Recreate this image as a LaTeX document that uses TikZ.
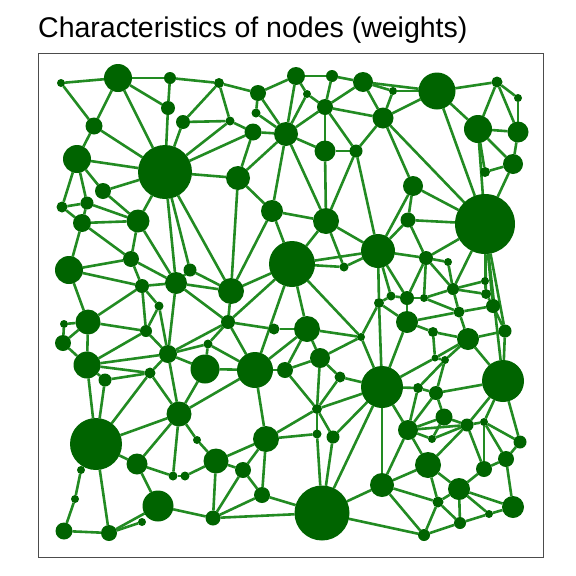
\documentclass[tikz,border=0pt]{standalone}
\usepackage{fontspec}
\setmainfont{Liberation Sans}
\definecolor{nodegreen}{RGB}{0,100,0}
\definecolor{edgegreen}{RGB}{34,139,34}
\pgfdeclarelayer{bg}
\pgfsetlayers{bg,main}
\tikzset{
  vertex/.style={circle, fill=nodegreen, draw=none, inner sep=0pt, outer sep=0pt},
  link/.style={draw=edgegreen, line width=2.6pt},
}
\begin{document}
\begin{tikzpicture}[x=1pt, y=-1pt]
  \useasboundingbox (0,0) rectangle (576,576);
  \node[anchor=base west, inner sep=0pt, font=\fontsize{28.5}{34}\selectfont] (title) at (38,37) {Characteristics of nodes (weights)};
  \draw[black!70, line width=1pt] (38,53) rectangle (543,557);
  % nodes: name/x/y/radius
  \foreach \n/\x/\y/\r in {
    1/61/83/4, 2/118/78/14, 3/170/78/6, 4/168/108/7, 5/183/122/7,
    6/94/126/8.5, 7/77/159/14, 8/165/172/27, 9/103/191/8, 10/62/207/5.5,
    11/87/203/6.5, 12/82/223/9, 13/138/221/11.5, 14/219/83/5, 15/258/93/8,
    16/296/76/9, 17/332/76/6, 18/363/82/10, 19/307/94/4, 20/325/107/8,
    21/256/113/4.5, 22/230/121/4.5, 23/253/132/8.5, 24/286/134/12, 25/383/118/10.5,
    26/325/151/10.5, 27/356/151/6.5, 28/238/178/12, 29/272/211/11, 30/326/221/13,
    31/393/91/4, 32/437/91/18.5, 33/497/82/5.5, 34/518/98/4, 35/478/129/14,
    36/518/132/10.5, 37/513/164/10, 38/485/172/5, 39/413/186/10, 40/408/220/7.5,
    41/485/224/30, 42/69/270/14, 43/131/259/8, 44/142/286/7, 45/176/283/11,
    46/190/270/6.5, 47/159/306/4.5, 48/88/322/12.5, 49/64/324/4, 50/63/343/8,
    51/146/331/6, 52/168/354/9, 53/87/365/13.5, 54/105/380/6.5, 55/150/373/5.5,
    56/208/344/4.5, 57/205/369/14.5, 58/292/264/23, 59/378/251/17, 60/344/267/4.5,
    61/231/291/13, 62/228/322/7, 63/274/329/5.5, 64/307/329/13, 65/379/303/5,
    66/361/337/4, 67/255/370/18, 68/285/370/8, 69/320/358/10, 70/340/377/5.5,
    71/382/387/21, 72/426/258/7, 73/448/262/4, 74/453/289/6, 75/485/281/4,
    76/486/294/5, 77/493/306/7, 78/391/296/4.5, 79/407/298/7, 80/424/298/4,
    81/459/312/5.5, 82/407/322/11, 83/433/332/5, 84/468/339/11, 85/505/331/6.5,
    86/435/358/3.5, 87/445/360/4, 88/503/381/21, 89/418/388/5, 90/436/393/7,
    91/96/444/26, 92/179/414/12.5, 93/81/470/4, 94/137/464/10.5, 95/197/440/4,
    96/173/476/4.5, 97/185/476/4.5, 98/216/461/12.5, 99/75/499/4, 100/158/506/15.5,
    101/64/531/8.5, 102/109/533/8, 103/142/522/4, 104/213/518/7.5, 105/317/409/5,
    106/266/439/13, 107/317/434/4.5, 108/333/437/6.5, 109/243/470/8, 110/262/495/8,
    111/322/513/27.5, 112/382/485/12, 113/444/417/8.5, 114/408/430/10, 115/467/425/6.5,
    116/484/422/4, 117/432/439/4, 118/520/442/6.5, 119/506/459/8, 120/428/465/13,
    121/484/469/8, 122/459/489/11, 123/438/502/5.5, 124/513/507/11, 125/489/514/4,
    126/460/523/6, 127/424/535/6}
    \node[vertex, minimum size={2*\r pt}] (v\n) at (\x,\y) {};
  % links
  \begin{pgfonlayer}{bg}
  \foreach \a/\b in {
    1/2, 1/6, 2/3, 2/4, 2/6, 2/8, 3/4, 3/14, 4/8, 5/14, 5/8, 5/22, 6/7, 6/8,
    7/8, 7/9, 7/10, 7/11, 8/9, 8/22, 8/23, 8/28, 8/13, 8/45, 8/46, 8/61, 9/13,
    10/11, 10/12, 11/12, 11/13, 12/13, 12/42, 12/43, 13/43, 13/45,
    14/15, 14/22, 15/16, 15/21, 15/24, 16/17, 16/19, 16/24, 17/18, 17/20, 18/20,
    18/25, 18/31, 18/32, 19/20, 19/24, 20/24, 20/25, 20/26, 20/27, 21/24, 22/23,
    23/24, 23/28, 24/26, 24/28, 24/29, 24/30, 25/27, 26/27, 26/30, 27/30, 27/59,
    28/29, 28/61, 29/30, 29/58, 29/61,
    31/32, 25/31, 25/32, 32/33, 32/35, 32/41, 33/34, 33/35, 33/36, 34/36, 35/36,
    35/37, 35/38, 35/41, 36/37, 37/38, 37/41, 25/39, 25/41, 39/40, 39/41, 39/59,
    40/41, 40/59, 40/72,
    42/43, 42/44, 42/48, 43/44, 43/45, 44/45, 44/47, 44/48, 44/51, 45/46, 45/61,
    45/62, 45/52, 46/61, 47/51, 47/52, 48/49, 48/50, 48/51, 48/53, 49/50, 50/53,
    51/52, 51/53, 52/53, 53/54, 53/55, 54/55, 52/55, 52/56, 52/57, 52/62, 56/57,
    56/62, 56/67, 57/67, 57/92,
    30/58, 30/59, 30/60, 58/59, 58/60, 59/60, 58/61, 58/62, 58/64, 58/66, 58/67,
    59/65, 65/66, 65/71, 61/62, 62/63, 62/67, 63/64, 64/66, 64/67, 64/68, 64/69,
    67/68, 68/69, 69/70, 69/66, 70/71, 66/71,
    41/72, 41/74, 41/75, 41/76, 41/77, 41/85, 41/88, 59/72, 59/78, 59/79, 72/73,
    72/79, 72/80, 72/74, 73/74, 74/75, 74/76, 74/80, 74/81, 65/78, 65/82, 78/79,
    79/80, 79/82, 80/81, 81/82, 82/83, 82/71, 81/77, 81/84, 83/84, 83/86, 84/85,
    84/86, 84/87, 84/88, 77/85, 85/88, 86/87, 86/71, 87/89, 87/90, 71/89, 75/76,
    76/77,
    53/91, 54/91, 55/91, 55/92, 52/92, 92/67, 91/92, 92/94, 92/96, 92/95, 95/98,
    91/94, 91/93, 93/99, 99/101, 91/102, 94/100, 94/96, 96/97, 97/98, 100/102,
    102/103, 100/104, 101/102,
    67/106, 68/105, 69/105, 70/105, 105/71, 105/106, 105/107, 105/108, 106/107,
    107/111, 108/111, 108/71, 71/111, 106/98, 106/109, 106/110, 98/109, 98/104,
    109/110, 109/104, 110/104, 104/111, 110/111, 111/112, 111/127,
    89/90, 90/88, 89/114, 90/114, 71/114, 71/112, 114/113, 114/115, 114/117,
    114/120, 114/112, 90/113, 88/115, 88/116, 88/118, 115/116, 115/117, 115/120,
    115/121, 116/121, 116/119, 116/118, 118/119, 119/121, 119/124, 121/122,
    120/112, 120/123, 120/122, 122/123, 122/124, 122/125, 122/126, 124/125,
    125/126, 123/126, 123/127, 112/123, 112/127, 126/127, 113/117, 113/115}
    \draw[link] (v\a) -- (v\b);
  \end{pgfonlayer}
\end{tikzpicture}
\end{document}
